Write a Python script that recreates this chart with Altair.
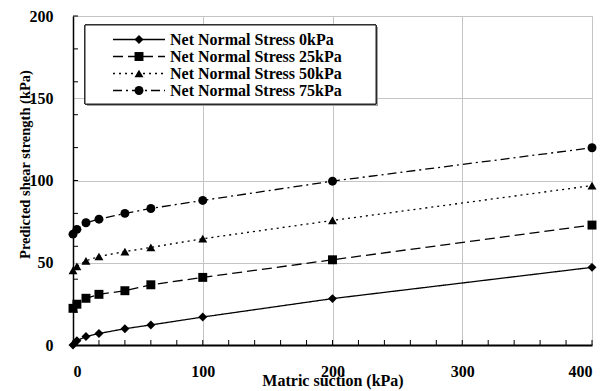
import altair as alt
import pandas as pd

# ---- data ----
suction = [0, 3, 10, 20, 40, 60, 100, 200, 400]
series_names = [
    "Net Normal Stress 0kPa",
    "Net Normal Stress 25kPa",
    "Net Normal Stress 50kPa",
    "Net Normal Stress 75kPa",
]
s0 = [0.0, 2.6, 5.2, 7.0, 9.9, 12.2, 17.0, 28.2, 47.2]
s25 = [22.3, 24.8, 28.4, 30.8, 33.0, 36.6, 41.1, 51.8, 72.9]
s50 = [45.3, 47.8, 51.2, 53.8, 56.8, 59.3, 64.6, 75.7, 96.9]
s75 = [67.4, 70.3, 74.3, 76.5, 80.0, 83.0, 87.9, 99.6, 119.9]
x_ticks = list(range(0, 401, 20))
y_ticks = list(range(0, 201, 20))
x_labels = [0, 100, 200, 300, 400]
y_labels = [0, 50, 100, 150, 200]

rows = []
for name, vals in zip(series_names, [s0, s25, s50, s75]):
    for xv, yv in zip(suction, vals):
        rows.append({"series": name, "x": xv, "y": yv})
df = pd.DataFrame(rows)
leg_df = pd.DataFrame({"series": series_names})

W, H = 519, 329
FONT = "Liberation Serif"

xs = alt.Scale(domain=[0, 400], nice=False, zero=False)
ys = alt.Scale(domain=[0, 200], nice=False, zero=False)

common_axis = dict(
    labelFont=FONT, labelFontWeight="bold", labelFontSize=16, labelColor="black",
    titleFont=FONT, titleFontWeight="bold", titleColor="black",
    domainColor="black", gridColor="#c4c4c4", gridWidth=1,
    grid=True, ticks=False, tickSize=0,
)
x_enc = alt.X(
    "x:Q", scale=xs,
    axis=alt.Axis(values=x_labels, labelPadding=18, domainWidth=2,
                  title="Matric suction (kPa)", titleFontSize=16,
                  titleY=35, titleBaseline="middle", **common_axis),
)
y_enc = alt.Y(
    "y:Q", scale=ys,
    axis=alt.Axis(values=y_labels, labelPadding=20, domainWidth=1.5,
                  title="Predicted shear strength (kPa)", titleFontSize=14.5,
                  titleX=-48, titleY=148, titleAngle=270, titleBaseline="middle",
                  **common_axis),
)

dash_scale = alt.Scale(domain=series_names, range=[[1, 0], [10, 5], [2, 4], [9, 4, 2, 4]])
shape_scale = alt.Scale(domain=series_names, range=["diamond", "square", "triangle-up", "circle"])

lines = alt.Chart(df).mark_line(color="black", strokeWidth=1.3).encode(
    x=x_enc, y=y_enc,
    strokeDash=alt.StrokeDash("series:N", scale=dash_scale, legend=None),
)

points = alt.Chart(df).mark_point(filled=True, color="black", size=80, opacity=1).encode(
    x="x:Q", y="y:Q",
    shape=alt.Shape("series:N", scale=shape_scale, legend=None),
)

xt = pd.DataFrame({"v": x_ticks})
yt = pd.DataFrame({"v": y_ticks})
x_tick_layer = alt.Chart(xt).mark_rule(color="black", strokeWidth=1).encode(
    x=alt.X("v:Q", scale=xs), y=alt.value(H - 5), y2=alt.value(H)
)
y_tick_layer = alt.Chart(yt).mark_rule(color="black", strokeWidth=1).encode(
    y=alt.Y("v:Q", scale=ys), x=alt.value(0), x2=alt.value(5)
)

main = alt.layer(x_tick_layer, y_tick_layer, lines, points)

# ---- legend box (drawn with marks) ----
BX0, BX1, BY0, BY1 = 12, 303, 9, 88
row_y = alt.Y("series:N", scale=alt.Scale(type="point", domain=series_names,
                                          range=[23.5, 74.5], padding=0), axis=None)
leg_shadow = alt.Chart(leg_df).mark_rect(fill="#a0a0a0").encode(
    x=alt.value(BX0 + 2), x2=alt.value(BX1 + 2), y=alt.value(BY0 + 2), y2=alt.value(BY1 + 2)
)
leg_box = alt.Chart(leg_df).mark_rect(fill="white", stroke="#222222", strokeWidth=1).encode(
    x=alt.value(BX0), x2=alt.value(BX1), y=alt.value(BY0), y2=alt.value(BY1)
)
leg_lines = alt.Chart(leg_df).mark_rule(color="black", strokeWidth=1.3).encode(
    x=alt.value(40), x2=alt.value(92), y=row_y,
    strokeDash=alt.StrokeDash("series:N", scale=dash_scale, legend=None),
)
leg_pts = alt.Chart(leg_df).mark_point(filled=True, color="black", size=80, opacity=1).encode(
    x=alt.value(66), y=row_y,
    shape=alt.Shape("series:N", scale=shape_scale, legend=None),
)
leg_text = alt.Chart(leg_df).mark_text(
    align="left", baseline="middle", font=FONT, fontWeight="bold", fontSize=16, color="black"
).encode(x=alt.value(97), y=row_y, text="series:N")

legend = alt.layer(leg_shadow, leg_box, leg_lines, leg_pts, leg_text)

chart = alt.layer(main, legend).resolve_scale(y="independent").properties(
    width=W, height=H,
    autosize=alt.AutoSizeParams(type="none"),
    padding={"left": 73, "top": 16, "right": 15, "bottom": 46},
).configure_view(
    stroke="black", strokeWidth=1
).configure(background="white")

chart.save("out.html", embed_options={"renderer": "svg", "actions": False})
